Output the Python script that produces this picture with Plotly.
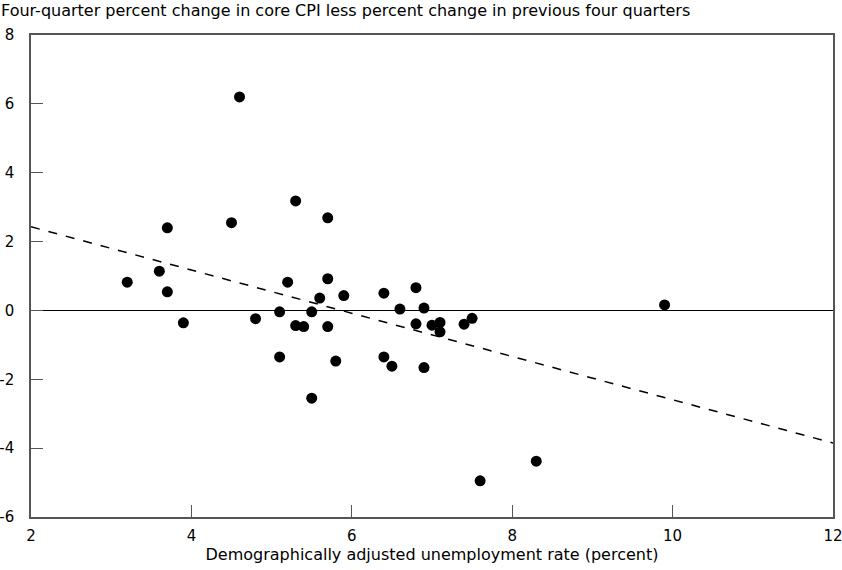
import plotly.graph_objects as go

unemp = [3.2, 3.6, 3.7, 3.7, 3.9, 4.5, 4.6, 4.8, 5.1, 5.1, 5.2, 5.3, 5.3, 5.4, 5.5, 5.5,
         5.6, 5.7, 5.7, 5.7, 5.8, 5.9, 6.4, 6.4, 6.5, 6.6, 6.8, 6.8, 6.9, 6.9, 7.0, 7.1,
         7.1, 7.4, 7.5, 7.6, 8.3, 9.9]
infl_change = [0.82, 1.14, 2.40, 0.54, -0.36, 2.55, 6.20, -0.24, -0.04, -1.35, 0.82, 3.18,
               -0.44, -0.47, -0.04, -2.55, 0.36, 2.69, 0.92, -0.47, -1.47, 0.43, 0.50, -1.35,
               -1.62, 0.04, 0.66, -0.39, 0.07, -1.66, -0.43, -0.35, -0.62, -0.40, -0.23,
               -4.95, -4.38, 0.16]

fit_x = [2, 12]
fit_y = [2.43, -3.85]

x_ticks = [2, 4, 6, 8, 10, 12]
y_ticks = [-6, -4, -2, 0, 2, 4, 6, 8]

FONT = "DejaVu Sans, Liberation Sans, Arial, sans-serif"

fig = go.Figure()
fig.add_trace(go.Scatter(x=fit_x, y=fit_y, mode="lines",
                         line=dict(color="black", width=1.5, dash="dash"),
                         hoverinfo="skip", showlegend=False))
fig.add_trace(go.Scatter(x=unemp, y=infl_change, mode="markers",
                         marker=dict(color="black", size=11),
                         showlegend=False))

fig.update_layout(
    width=842, height=570,
    margin=dict(l=31, r=9, t=35, b=53, autoexpand=False),
    paper_bgcolor="white", plot_bgcolor="white",
    font=dict(family=FONT, size=15, color="black"),
    showlegend=False,
    annotations=[dict(text="Four-quarter percent change in core CPI less percent change in previous four quarters",
                      xref="paper", yref="paper", x=-0.04, y=1.027, xanchor="left", yanchor="bottom",
                      showarrow=False, font=dict(family=FONT, size=16, color="black"))],
)
fig.update_xaxes(range=[2, 12], tickvals=x_ticks, ticktext=[str(v) for v in x_ticks],
                 ticks="inside", ticklen=12, tickcolor="#555", tickwidth=1,
                 ticklabelstandoff=4, ticklabeloverflow="allow",
                 showgrid=False, zeroline=False,
                 showline=True, linecolor="#555", linewidth=1.5, mirror=True,
                 title=dict(text="Demographically adjusted unemployment rate (percent)",
                            font=dict(family=FONT, size=16), standoff=0))
fig.update_yaxes(range=[-6, 8], tickvals=y_ticks, ticktext=[str(v) for v in y_ticks],
                 ticks="inside", ticklen=12, tickcolor="#555", tickwidth=1,
                 ticklabelstandoff=12, ticklabeloverflow="allow",
                 showgrid=False, zeroline=True, zerolinecolor="black", zerolinewidth=1,
                 showline=True, linecolor="#555", linewidth=1.5, mirror=True)

fig.write_html("out.html", config={"displayModeBar": False},
               post_script="document.body.style.margin='0';document.body.style.overflow='hidden';")
